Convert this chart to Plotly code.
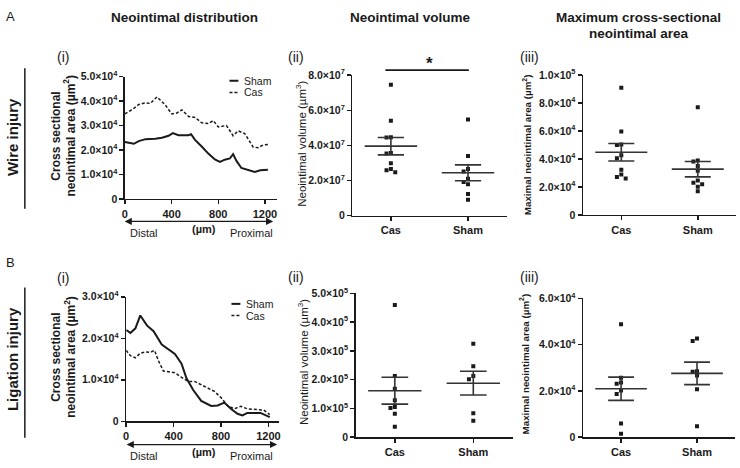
import numpy as np
import plotly.graph_objects as go

W, H = 740, 468
FONT = "Arial, Liberation Sans, Helvetica, sans-serif"
INK = "#1a1a1a"

# ---------------- data ----------------
# Wire injury, neointimal distribution (um, x1e4 um^2)
wire_sham_um = [0, 34, 77, 119, 176, 261, 317, 374, 411, 459, 545, 567, 601, 658, 715, 771, 814, 856, 899, 927, 956, 998, 1055, 1112, 1160, 1225]
wire_sham_area = [2.32, 2.30, 2.25, 2.36, 2.44, 2.46, 2.50, 2.58, 2.69, 2.60, 2.60, 2.64, 2.41, 2.14, 1.85, 1.61, 1.51, 1.60, 1.65, 1.83, 1.55, 1.26, 1.17, 1.10, 1.17, 1.19]
wire_cas_um = [0, 34, 77, 119, 176, 218, 275, 346, 402, 445, 488, 545, 601, 658, 715, 757, 800, 870, 927, 970, 1027, 1098, 1140, 1183, 1231]
wire_cas_area = [3.47, 3.57, 3.70, 3.86, 3.93, 3.90, 4.17, 3.84, 3.47, 3.51, 3.64, 3.37, 3.33, 3.11, 3.08, 3.20, 2.94, 3.00, 2.58, 2.78, 2.67, 2.12, 2.09, 2.20, 2.22]

# Ligation injury, neointimal distribution (um, x1e4 um^2)
lig_sham_um = [0, 36, 78, 119, 175, 231, 300, 356, 411, 467, 508, 564, 633, 717, 772, 828, 883, 939, 981, 1022, 1133, 1211]
lig_sham_area = [2.20, 2.13, 2.24, 2.55, 2.31, 2.17, 1.85, 1.74, 1.62, 1.39, 1.04, 0.76, 0.49, 0.37, 0.38, 0.45, 0.30, 0.18, 0.14, 0.20, 0.20, 0.10]
lig_cas_um = [0, 36, 78, 119, 161, 203, 239, 272, 314, 356, 411, 467, 522, 578, 633, 689, 744, 800, 856, 911, 967, 1022, 1106, 1160, 1211]
lig_cas_area = [1.71, 1.58, 1.53, 1.64, 1.67, 1.66, 1.71, 1.46, 1.21, 1.19, 1.17, 1.06, 0.96, 0.96, 0.88, 0.80, 0.72, 0.57, 0.37, 0.30, 0.36, 0.30, 0.28, 0.27, 0.16]

groups = ["Cas", "Sham"]
# Wire: neointimal volume (x1e7 um^3)
wire_vol_cas = [7.46, 5.40, 4.47, 4.45, 3.57, 3.54, 2.98, 2.65, 2.58, 2.47]
wire_vol_sham = [5.47, 3.39, 2.65, 2.52, 2.10, 1.92, 1.78, 1.23, 0.90]
# Wire: maximal neointimal area (x1e4 um^2)
wire_max_cas = [9.10, 5.97, 5.04, 5.00, 4.28, 4.05, 3.24, 2.89, 2.71, 2.61]
wire_max_sham = [7.71, 3.89, 3.82, 3.51, 3.17, 2.47, 2.31, 2.19, 2.01, 1.69]
# Ligation: neointimal volume (x1e5 um^3)
lig_vol_cas = [4.60, 2.13, 1.68, 1.28, 1.05, 1.01, 0.81, 0.36]
lig_vol_sham = [3.25, 2.47, 2.13, 2.01, 0.83, 0.57]
# Ligation: maximal neointimal area (x1e4 um^2)
lig_max_cas = [4.88, 2.57, 2.36, 2.31, 2.01, 1.86, 0.59, 0.14]
lig_max_sham = [4.26, 4.15, 2.85, 2.83, 2.66, 2.07, 0.47]

dist_ticks = [0, 400, 800, 1200]

def sci_labels(n_max, step, exp, top_exp=None):
    labs = []
    v = 0.0
    vals = []
    while v <= n_max + 1e-9:
        vals.append(v)
        v += step
    for v in vals:
        if v == 0:
            labs.append("0")
        elif top_exp is not None and abs(v - 10) < 1e-9:
            labs.append("1.0×10<sup>%d</sup>" % top_exp)
        else:
            labs.append("%.1f×10<sup>%d</sup>" % (v, exp))
    return vals, labs

# ---------------- layout (pixel boxes: x_left, x_right, y_bottom, y_top) ----------------
boxes = {
    1: (122.7, 275.5, 196.7, 70.7),   # A(i)
    2: (351.7, 507.0, 214.0, 69.3),   # A(ii)
    3: (584.0, 738.0, 213.3, 69.3),   # A(iii)
    4: (124.0, 278.0, 426.0, 297.7),  # B(i)
    5: (355.0, 513.0, 442.3, 294.3),  # B(ii)
    6: (584.0, 737.0, 442.3, 299.3),  # B(iii)
}

fig = go.Figure()

def ax_names(n):
    return ("x" if n == 1 else "x%d" % n), ("y" if n == 1 else "y%d" % n)

axis_common = dict(showgrid=False, zeroline=False, showline=True, linecolor=INK, linewidth=1.5,
                   ticks="outside", ticklen=4, tickwidth=1.5, tickcolor=INK,
                   tickfont=dict(family=FONT, size=10.5, color=INK, weight="bold"))

yspecs = {
    1: (5, 1, 4, None, [0, 5]),
    2: (8, 2, 7, None, [0, 8]),
    3: (10, 2, 4, 5, [0, 10]),
    4: (3, 1, 4, None, [0, 3]),
    5: (5, 1, 5, None, [0, 5]),
    6: (6, 2, 4, None, [0, 6]),
}

for n, (xl, xr, yb, yt) in boxes.items():
    xa, ya = ax_names(n)
    xkey = "xaxis" if n == 1 else "xaxis%d" % n
    ykey = "yaxis" if n == 1 else "yaxis%d" % n
    nmax, step, ex, top, rng = yspecs[n]
    tv, tt = sci_labels(nmax, step, ex, top)
    if n in (1, 4):
        xcfg = dict(axis_common, domain=[xl / W, xr / W], anchor=ya,
                    range=[0, 1300 if n == 1 else 1290], tickvals=dist_ticks,
                    ticktext=[str(t) for t in dist_ticks])
        xcfg["tickfont"] = dict(family=FONT, size=11, color=INK, weight="bold")
    else:
        xcfg = dict(axis_common, domain=[xl / W, xr / W], anchor=ya, range=[-0.5, 1.5],
                    tickvals=[0, 1], ticktext=groups)
        xcfg["tickfont"] = dict(family=FONT, size=11, color=INK, weight="bold")
    ycfg = dict(axis_common, domain=[1 - yb / H, 1 - yt / H], anchor=xa, range=rng,
                tickvals=tv, ticktext=tt)
    fig.update_layout(**{xkey: xcfg, ykey: ycfg})

# ---------------- line charts ----------------
for n, (sx, sy, cx, cy) in {1: (wire_sham_um, wire_sham_area, wire_cas_um, wire_cas_area),
                            4: (lig_sham_um, lig_sham_area, lig_cas_um, lig_cas_area)}.items():
    xa, ya = ax_names(n)
    fig.add_trace(go.Scatter(x=sx, y=sy, mode="lines", xaxis=xa, yaxis=ya, showlegend=False,
                             line=dict(color=INK, width=2), cliponaxis=False))
    fig.add_trace(go.Scatter(x=cx, y=cy, mode="lines", xaxis=xa, yaxis=ya, showlegend=False,
                             line=dict(color=INK, width=1.5, dash="3px,2px"), cliponaxis=False))

# ---------------- scatter dot plots ----------------
def swarm(vals, ppu_y, ppu_x, size=4.4):
    vals = np.asarray(vals, dtype=float)
    order = np.argsort(-vals)
    placed = []
    xs = np.zeros(len(vals))
    for i in order:
        yp = vals[i] * ppu_y
        for k in [0, -1, 1, -2, 2, -3, 3]:
            xp = k * size
            if all((xp - a) ** 2 + (yp - b) ** 2 >= size ** 2 for a, b in placed):
                break
        placed.append((xp, yp))
        xs[i] = xp / ppu_x
    return xs

dot_sets = {2: (wire_vol_cas, wire_vol_sham), 3: (wire_max_cas, wire_max_sham),
            5: (lig_vol_cas, lig_vol_sham), 6: (lig_max_cas, lig_max_sham)}

for n, sets in dot_sets.items():
    xa, ya = ax_names(n)
    xl, xr, yb, yt = boxes[n]
    rng = yspecs[n][4]
    ppu_y = (yb - yt) / (rng[1] - rng[0])
    ppu_x = (xr - xl) / 2.0
    for gi, vals in enumerate(sets):
        v = np.asarray(vals, dtype=float)
        offs = swarm(v, ppu_y, ppu_x)
        fig.add_trace(go.Scatter(x=gi + offs, y=v, mode="markers", xaxis=xa, yaxis=ya, showlegend=False,
                                 marker=dict(symbol="square", size=4, color=INK, line=dict(width=0))))
        m = v.mean()
        s = v.std(ddof=1) / np.sqrt(len(v))
        mx = [gi - 0.34, gi + 0.34, None, gi, gi, None, gi - 0.17, gi + 0.17, None, gi - 0.17, gi + 0.17]
        my = [m, m, None, m - s, m + s, None, m + s, m + s, None, m - s, m - s]
        fig.add_trace(go.Scatter(x=mx, y=my, mode="lines", xaxis=xa, yaxis=ya, showlegend=False,
                                 line=dict(color="#333333", width=1.6)))

# ---------------- annotations / decorations ----------------
ann = []
shapes = []

def txt(x, y, s, size=11, bold=False, angle=0, xanchor="center", color=INK):
    ann.append(dict(x=x / W, y=1 - y / H, xref="paper", yref="paper", text=s, showarrow=False,
                    xanchor=xanchor, yanchor="middle", textangle=angle,
                    font=dict(family=FONT, size=size, color=color, weight="bold" if bold else "normal")))

def pline(x0, y0, x1, y1, width=1.5, dash="solid"):
    shapes.append(dict(type="line", xref="paper", yref="paper", x0=x0 / W, y0=1 - y0 / H,
                       x1=x1 / W, y1=1 - y1 / H, line=dict(color=INK, width=width, dash=dash)))

# panel letters and headers
txt(8, 9, "A", size=13)
txt(8, 262, "B", size=13)
txt(183, 10, "Neointimal distribution", size=13.5, bold=True)
txt(410, 10, "Neointimal volume", size=13.5, bold=True)
txt(640, 10, "Maximum cross-sectional", size=13.5, bold=True)
txt(640, 26, "neointimal area", size=13.5, bold=True)

# row labels
txt(9, 133, "Wire injury", size=15, bold=True, angle=-90)
txt(9, 362, "Ligation injury", size=15, bold=True, angle=-90)
pline(22, 62, 22, 207, width=1.5)
pline(22, 288, 22, 443, width=1.5)

# sub-panel labels
for (x, y, s) in [(60, 50, "(i)"), (295, 50, "(ii)"), (530, 50, "(iii)"),
                  (60, 278, "(i)"), (295, 277, "(ii)"), (530, 277, "(iii)")]:
    txt(x, y, s, size=14)

# y-axis titles
txt(53, 132, "Cross sectional", size=12, bold=True, angle=-90)
txt(67, 132, "neointimal area (µm<sup>2</sup>)", size=12, bold=True, angle=-90)
txt(54, 360, "Cross sectional", size=12, bold=True, angle=-90)
txt(68, 360, "neointimal area (µm<sup>2</sup>)", size=12, bold=True, angle=-90)
txt(300, 140, "Neointimal volume (µm<sup>3</sup>)", size=11.5, angle=-90)
txt(302, 365, "Neointimal volume (µm<sup>3</sup>)", size=11.5, angle=-90)
txt(527, 141, "Maximal neointimal area (µm<sup>2</sup>)", size=9.8, bold=True, angle=-90)
txt(525, 367, "Maximal neointimal area (µm<sup>2</sup>)", size=9.8, bold=True, angle=-90)

# legends on line charts
for (lx, ly) in [(228, 75), (230, 305)]:
    pline(lx, ly, lx + 9, ly, width=2)
    pline(lx, ly + 12, lx + 9, ly + 12, width=1.5, dash="3px,2px")
    txt(lx + 13, ly, "Sham", size=10.5, xanchor="left")
    txt(lx + 13, ly + 12, "Cas", size=10.5, xanchor="left")

# distal / proximal arrows
for (x0, x1, y) in [(122, 272, 220), (124, 276, 450)]:
    ann.append(dict(x=x1 / W, y=1 - y / H, ax=-(x1 - x0), ay=0, xref="paper", yref="paper",
                    axref="pixel", ayref="pixel", text="", showarrow=True, arrowhead=2,
                    arrowside="end+start", arrowsize=1.1, arrowwidth=1.3, arrowcolor=INK))
    txt(142, y + 12, "Distal", size=11)
    txt(202, y + 8, "(µm)", size=11, bold=True)
    txt(250, y + 12, "Proximal", size=11)

# significance bar
pline(385, 64, 469, 64, width=1.6)
txt(429, 57, "*", size=17, bold=True)

fig.update_layout(width=W, height=H, margin=dict(l=0, r=0, t=0, b=0),
                  paper_bgcolor="white", plot_bgcolor="white",
                  annotations=ann, shapes=shapes, showlegend=False,
                  font=dict(family=FONT, color=INK))

fig.write_html("out.html", config={"displayModeBar": False, "staticPlot": True},
               post_script="document.body.style.margin='0';document.body.style.padding='0';"
                           "document.body.style.overflow='hidden';")
